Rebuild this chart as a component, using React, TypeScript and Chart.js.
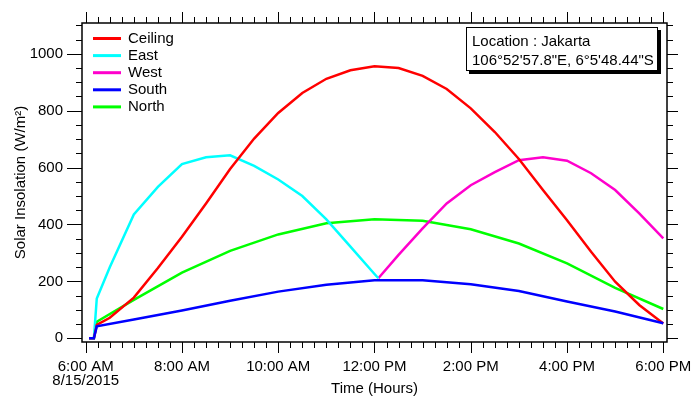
import React, { useEffect, useRef } from 'react';
import { Chart, registerables } from 'chart.js';

Chart.register(...registerables);

const FONT = '"Liberation Sans", Arial, Helvetica, sans-serif';

// ---- data (hours of day, W/m²) ----
const seriesLabels = ['Ceiling', 'East', 'West', 'South', 'North'];
const seriesColors = ['#ff0000', '#00ffff', '#ff00cc', '#0000ff', '#00ff00'];

const ceilingHours = [6.07, 6.17, 6.23, 6.5, 7, 7.5, 8, 8.5, 9, 9.5, 10, 10.5, 11, 11.5, 12, 12.5, 13, 13.5, 14, 14.5, 15, 15.5, 16, 16.5, 17, 17.5, 18];
const ceilingValues = [0, 0, 47, 72, 143, 247, 357, 474, 595, 702, 792, 862, 912, 942, 956, 950, 922, 876, 808, 725, 630, 521, 415, 304, 199, 117, 52];

const eastHours = [6.07, 6.17, 6.23, 6.5, 7, 7.5, 8, 8.5, 9, 9.5, 10, 10.5, 11, 11.5, 12, 12.08];
const eastValues = [0, 0, 140, 250, 435, 532, 612, 636, 643, 606, 558, 500, 418, 322, 226, 211];

const westHours = [12.08, 12.5, 13, 13.5, 14, 14.5, 15, 15.5, 16, 16.5, 17, 17.5, 18];
const westValues = [211, 293, 386, 474, 538, 584, 626, 636, 624, 580, 521, 439, 351];

const southHours = [6.07, 6.17, 6.23, 7, 8, 9, 10, 11, 12, 13, 14, 15, 16, 17, 18];
const southValues = [0, 0, 42, 66, 98, 132, 164, 188, 204, 204, 190, 166, 129, 94, 53];

const northHours = [6.07, 6.17, 6.23, 7, 8, 9, 10, 11, 12, 13, 14, 15, 16, 17, 18];
const northValues = [0, 0, 58, 135, 231, 307, 365, 404, 418, 413, 383, 333, 263, 177, 103];

const xTickHours = [6, 8, 10, 12, 14, 16, 18];
const yTickValues = [0, 200, 400, 600, 800, 1000];
const dateLabel = '8/15/2015';
const xTitle = 'Time (Hours)';
const yTitle = 'Solar Insolation (W/m²)';
const locationLines = ['Location : Jakarta', '106°52\'57.8"E, 6°5\'48.44"S'];

const seriesHours = [ceilingHours, eastHours, westHours, southHours, northHours];
const seriesValues = [ceilingValues, eastValues, westValues, southValues, northValues];

function fmtHour(h: number): string {
  const hh = h % 12 === 0 ? 12 : h % 12;
  return `${hh}:00 ${h < 12 ? 'AM' : 'PM'}`;
}

const framePlugin = {
  id: 'frameDecor',
  afterDraw(chart: any) {
    const { ctx, chartArea: a, scales } = chart;
    const xs = scales.x;
    const ys = scales.y;
    ctx.save();
    ctx.strokeStyle = '#000';
    ctx.lineWidth = 1;
    const seg = (x1: number, y1: number, x2: number, y2: number) => {
      ctx.beginPath();
      ctx.moveTo(x1, y1);
      ctx.lineTo(x2, y2);
      ctx.stroke();
    };
    // x ticks every 15 min, longer every 2 h
    for (let i = 0; i <= 48; i++) {
      const t = 6 + i * 0.25;
      const px = Math.round(xs.getPixelForValue(t)) + 0.5;
      const len = i % 8 === 0 ? 11 : 6;
      seg(px, a.bottom, px, a.bottom + len);
      seg(px, a.top, px, a.top - len);
    }
    // y ticks every 50, longer every 200
    for (let i = 0; i <= 22; i++) {
      const v = i * 50;
      const py = Math.round(ys.getPixelForValue(v)) + 0.5;
      const major = i % 4 === 0;
      seg(a.left - (major ? 15 : 6), py, a.left, py);
      seg(a.right, py, a.right + (major ? 11 : 6), py);
    }
    ctx.lineWidth = 1.5;
    ctx.strokeRect(a.left, a.top, a.right - a.left, a.bottom - a.top);

    // legend
    ctx.font = `15px ${FONT}`;
    ctx.textBaseline = 'middle';
    ctx.textAlign = 'left';
    chart.data.datasets.forEach((ds: any, i: number) => {
      const y = a.top + 15.5 + i * 17.1;
      ctx.strokeStyle = ds.borderColor;
      ctx.lineWidth = 3;
      seg(a.left + 11, y, a.left + 39, y);
      ctx.fillStyle = '#000';
      ctx.fillText(ds.label, a.left + 46, y);
    });

    // location box
    const bx = 466, by = 27, bw = 192, bh = 44;
    ctx.fillStyle = '#000';
    ctx.fillRect(bx + 3, by + 3, bw, bh);
    ctx.fillStyle = '#fff';
    ctx.fillRect(bx, by, bw, bh);
    ctx.strokeStyle = '#000';
    ctx.lineWidth = 1;
    ctx.strokeRect(bx + 0.5, by + 0.5, bw - 1, bh - 1);
    ctx.fillStyle = '#000';
    ctx.fillText(locationLines[0], bx + 6, by + 15);
    ctx.fillText(locationLines[1], bx + 6, by + 34);
    ctx.restore();
  },
};

export default function App() {
  const canvasRef = useRef<HTMLCanvasElement | null>(null);

  useEffect(() => {
    if (!canvasRef.current) return;
    const datasets = seriesLabels.map((label, i) => ({
      label,
      data: seriesHours[i].map((h, j) => ({ x: h, y: seriesValues[i][j] })),
      borderColor: seriesColors[i],
      backgroundColor: seriesColors[i],
      borderWidth: 2.5,
      pointRadius: 0,
      tension: 0,
      fill: false,
      order: label === 'South' ? -1 : i,
    }));
    const chart = new Chart(canvasRef.current, {
      type: 'line',
      data: { datasets },
      plugins: [framePlugin],
      options: {
        animation: false,
        responsive: true,
        maintainAspectRatio: false,
        events: [],
        layout: { padding: { left: 0, top: 23, right: 26, bottom: 0 } },
        plugins: { legend: { display: false }, tooltip: { enabled: false }, title: { display: false } },
        scales: {
          x: {
            type: 'linear',
            position: 'bottom',
            min: 5.923,
            max: 18.077,
            afterBuildTicks: (s: any) => {
              s.ticks = xTickHours.map((v) => ({ value: v }));
            },
            afterFit: (s: any) => {
              s.height = 56;
              s.paddingLeft = 0;
              s.paddingRight = 0;
            },
            ticks: {
              autoSkip: false,
              maxRotation: 0,
              minRotation: 0,
              padding: 7,
              color: '#000',
              font: { family: FONT, size: 15, lineHeight: 0.93 },
              callback: (v: any) => (v === 6 ? [fmtHour(6), dateLabel] : fmtHour(Number(v))),
            },
            grid: {
              display: true,
              drawOnChartArea: false,
              drawTicks: true,
              tickLength: 11,
              color: 'rgba(0,0,0,0)',
              tickColor: 'rgba(0,0,0,0)',
            },
            border: { display: false },
            title: {
              display: true,
              text: xTitle,
              color: '#000',
              font: { family: FONT, size: 15, lineHeight: 1.2 },
              padding: { top: 0, bottom: 0 },
            },
          },
          y: {
            type: 'linear',
            position: 'left',
            min: -13,
            max: 1108,
            afterBuildTicks: (s: any) => {
              s.ticks = yTickValues.map((v) => ({ value: v }));
            },
            afterFit: (s: any) => {
              s.width = 82;
              s.paddingTop = 0;
              s.paddingBottom = 0;
            },
            ticks: {
              padding: 4,
              color: '#000',
              font: { family: FONT, size: 15 },
              callback: (v: any) => String(v),
            },
            grid: {
              display: true,
              drawOnChartArea: false,
              drawTicks: true,
              tickLength: 15,
              color: 'rgba(0,0,0,0)',
              tickColor: 'rgba(0,0,0,0)',
            },
            border: { display: false },
            title: {
              display: true,
              text: yTitle,
              color: '#000',
              font: { family: FONT, size: 15, lineHeight: 1.2 },
              padding: { top: 12, bottom: 0 },
            },
          },
        },
      },
    } as any);
    return () => chart.destroy();
  }, []);

  return (
    <div style={{ position: 'absolute', left: 0, top: 0, width: 693, height: 398, background: '#fff' }}>
      <canvas ref={canvasRef} />
    </div>
  );
}
